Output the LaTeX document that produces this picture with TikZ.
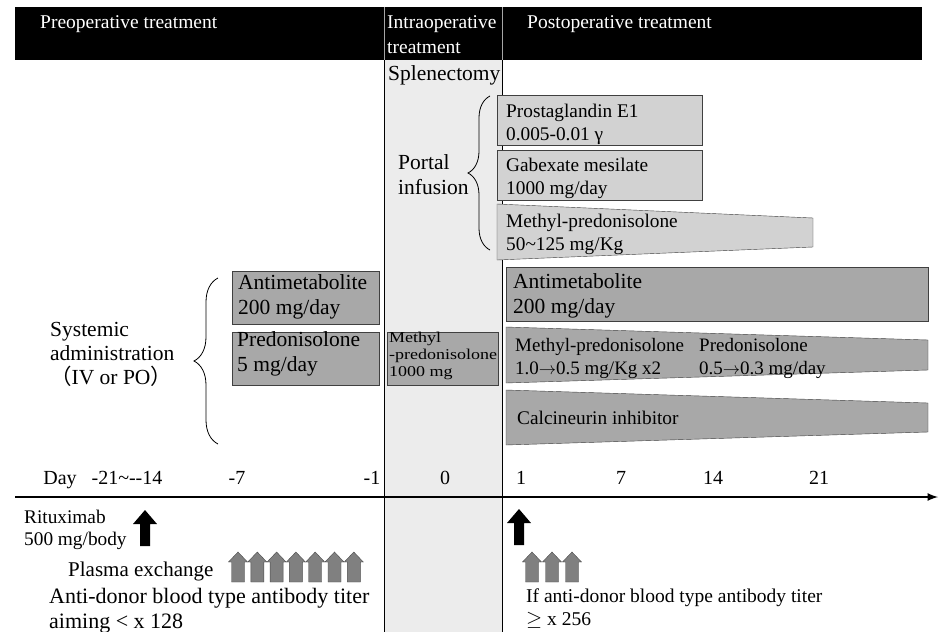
\documentclass[tikz,border=0pt]{standalone}
\usepackage{fontspec}
\setmainfont{Liberation Serif}
\newfontfamily\cjk{Noto Sans CJK JP}
\newfontfamily\widefont[FakeStretch=1.2]{Liberation Serif}
\usetikzlibrary{decorations.pathreplacing}

\tikzset{
  lightbox/.style={draw=black!75, fill=gray!35},
  darkbox/.style={draw=black!75, fill=gray!68},
  boxtext/.style={anchor=west, align=left, inner sep=0pt, font=\fontsize{21.5}{25}\selectfont},
  smalltext/.style={anchor=west, align=left, inner sep=0pt, font=\fontsize{19.3}{23}\selectfont},
  headtext/.style={anchor=west, align=left, inner sep=0pt, text=white, font=\fontsize{19.5}{25}\selectfont},
  daytext/.style={anchor=base, inner sep=0pt, font=\fontsize{20}{22}\selectfont},
  notetext/.style={anchor=west, align=left, inner sep=0pt},
  bigbrace/.style={decorate, decoration={brace, amplitude=#1}, thick},
  blackarrow/.pic={\fill[black] (-5,0) -- (-5,-22) -- (-12,-22) -- (0,-36) -- (12,-22) -- (5,-22) -- (5,0) -- cycle;},
  grayarrow/.pic={\filldraw[fill=gray, draw=black!70] (-6.5,0) -- (-6.5,-20) -- (-9.5,-20) -- (0,-30) -- (9.5,-20) -- (6.5,-20) -- (6.5,0) -- cycle;}
}

\begin{document}
\begin{tikzpicture}[x=1pt, y=-1pt]
\useasboundingbox[fill=white] (0,0) rectangle (946,632);
% header and intraoperative column
\fill[black] (15,7) rectangle (922,60);
\fill[gray!15] (384,60) rectangle (502,632);
\draw[gray!70] (384,7) -- (384,60) (502,7) -- (502,60);
\draw[thick] (384,60) -- (384,632);
\draw[thick] (502,60) -- (502,632);
\node[headtext] (pre) at (40,24) {Preoperative treatment};
\node[headtext] (intra) at (387,35) {Intraoperative\\treatment};
\node[headtext] (post) at (527,24) {Postoperative treatment};

% portal infusion
\node[boxtext] (splen) at (388,75) {Splenectomy};
\node[boxtext] (portal) at (398,175) {Portal\\infusion};
\coordinate (pb1) at (490,250);
\coordinate (pb2) at (490,96);
\draw[bigbrace=22] (pb1) -- (pb2);
\draw[lightbox] (497,95) rectangle (702,145);
\node[smalltext] (pge) at (506,124) {Prostaglandin E1\\0.005-0.01 γ};
\draw[lightbox] (497,150) rectangle (702,200);
\node[smalltext] (gab) at (506,178) {Gabexate mesilate\\1000 mg/day};
\draw[lightbox] (497,204) -- (813,218) -- (813,247) -- (497,260) -- cycle;
\node[smalltext] (mpp) at (506,234) {Methyl-predonisolone\\50\textasciitilde125 mg/Kg};

% systemic administration
\node[boxtext, font=\fontsize{21.5}{24}\selectfont] (sys) at (50,354) {Systemic\\administration\\{\cjk （}IV or PO{\cjk ）}};
\coordinate (sb1) at (218,444);
\coordinate (sb2) at (218,278);
\draw[bigbrace=24] (sb1) -- (sb2);
\draw[darkbox] (232,271) rectangle (379,324);
\node[boxtext] (am1) at (238,297) {Antimetabolite\\200 mg/day};
\draw[darkbox] (232,332) rectangle (379,385);
\node[boxtext] (pd1) at (237,354) {Predonisolone\\5 mg/day};
\draw[darkbox] (387,332) rectangle (498,385);
\node[boxtext, font=\widefont\fontsize{15}{17}\selectfont] (mp0) at (389,356) {Methyl\\-predonisolone\\1000 mg};

% postoperative
\draw[darkbox] (506,267) rectangle (928,321);
\node[boxtext] (am2) at (513,296) {Antimetabolite\\200 mg/day};
\draw[darkbox] (506,327) -- (928,340) -- (928,370) -- (506,383) -- cycle;
\node[smalltext, font=\fontsize{19}{23}\selectfont] (mp2) at (515,358) {Methyl-predonisolone\\1.0$\rightarrow$0.5 mg/Kg x2};
\node[smalltext, font=\fontsize{19}{23}\selectfont] (pd2) at (699,358) {Predonisolone\\0.5$\rightarrow$0.3 mg/day};
\draw[darkbox] (506,390) -- (928,403) -- (928,432) -- (506,445) -- cycle;
\node[smalltext] (cni) at (517,418) {Calcineurin inhibitor};

% day axis
\coordinate (ax1) at (15,497);
\coordinate (ax2) at (938,497);
\draw[line width=2.5pt, -latex] (ax1) -- (ax2);
\foreach \x/\d in {60/Day, 127/-21\textasciitilde-{}-14, 237/-7, 372/-1, 445/0, 521/1, 621/7, 713/14, 819/21}
  \node[daytext] (day\x) at (\x,484) {\d};

% rituximab and plasma exchange
\node[notetext, font=\fontsize{19.3}{22}\selectfont] (ritux) at (24,530) {Rituximab\\500 mg/body};
\pic at (145,546) {blackarrow};
\pic at (519,545) {blackarrow};
\foreach \i in {0,...,6}
  \pic at (238+19.3*\i,582) {grayarrow};
\foreach \i in {0,...,2}
  \pic at (532+20*\i,582) {grayarrow};
\node[notetext, font=\fontsize{21}{24}\selectfont] (pex) at (68,571) {Plasma exchange};
\node[notetext, font=\fontsize{22}{25}\selectfont] (titer1) at (49,611) {Anti-donor blood type antibody titer\\aiming < x 128};
\node[notetext, font=\fontsize{19.5}{23}\selectfont] (titer2) at (526,609) {If anti-donor blood type antibody titer\\$\geq$ x 256};
\end{tikzpicture}
\end{document}
